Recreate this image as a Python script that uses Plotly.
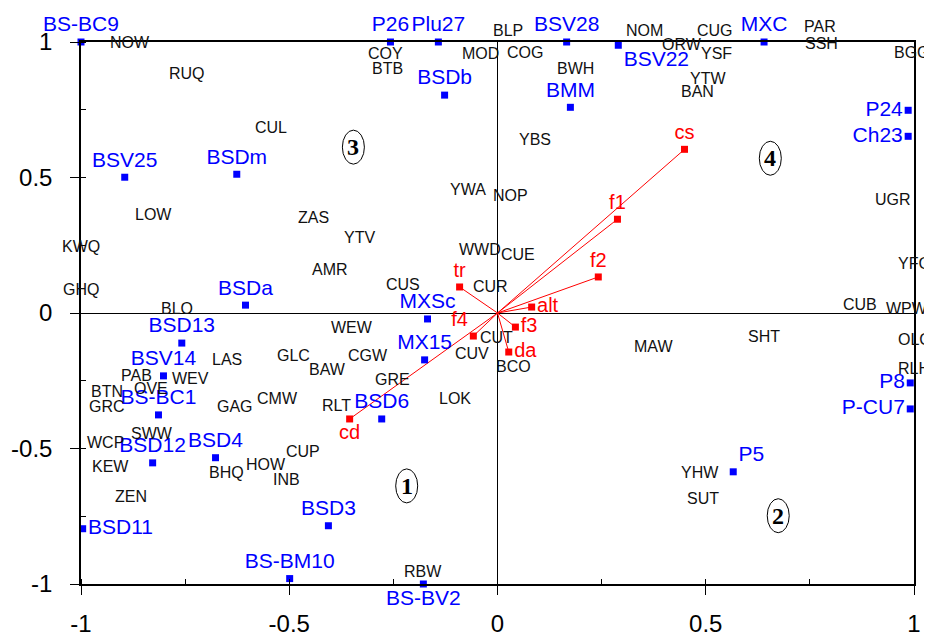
import plotly.graph_objects as go

# ---------------- data ----------------
# sites (blue squares)
site_names = ["BS-BC9", "P26", "Plu27", "BSV28", "BSV22", "MXC", "BSDb", "BMM", "P24", "Ch23",
              "BSV25", "BSDm", "BSDa", "MXSc", "BSD13", "BSV14", "MX15", "BS-BC1", "BSD6",
              "BSD12", "BSD4", "BSD11", "BSD3", "BS-BM10", "BS-BV2", "P8", "P-CU7", "P5"]
site_x = [-1.0, -0.257, -0.142, 0.166, 0.290, 0.640, -0.127, 0.175, 0.986, 0.986,
          -0.895, -0.626, -0.605, -0.168, -0.758, -0.802, -0.175, -0.814, -0.278,
          -0.828, -0.677, -0.996, -0.406, -0.499, -0.178, 0.991, 0.991, 0.566]
site_y = [1.0, 1.0, 1.0, 1.0, 0.988, 1.0, 0.804, 0.759, 0.748, 0.652,
          0.501, 0.512, 0.029, -0.022, -0.111, -0.232, -0.173, -0.376, -0.391,
          -0.553, -0.534, -0.796, -0.785, -0.980, -1.0, -0.258, -0.354, -0.586]

# species (black labels)
sp_names = ["NOW", "RUQ", "CUL", "LOW", "ZAS", "YTV", "KWQ", "AMR", "GHQ", "BLO", "WEW",
            "CUS", "YWA", "NOP", "YBS", "WWD", "CUE", "CUR", "CUT", "CUV", "BCO", "GRE",
            "LOK", "CGW", "GLC", "BAW", "LAS", "PAB", "WEV", "BTN", "OVE", "GRC", "GAG",
            "CMW", "RLT", "WCP", "SWW", "KEW", "ZEN", "BHQ", "HOW", "CUP", "INB", "RBW",
            "COY", "BTB", "BLP", "MOD", "COG", "BWH", "NOM", "ORW", "CUG", "YSF", "YTW",
            "BAN", "PAR", "SSH", "BGG", "UGR", "YFG", "CUB", "WPW", "SHT", "MAW", "OLC",
            "RLH", "YHW", "SUT"]
sp_x = [-0.883, -0.746, -0.545, -0.826, -0.442, -0.331, -1.0, -0.403, -1.0, -0.770, -0.350,
        -0.226, -0.070, 0.031, 0.091, -0.043, 0.050, -0.017, -0.002, -0.062, 0.038, -0.252,
        -0.103, -0.310, -0.490, -0.408, -0.650, -0.866, -0.737, -0.938, -0.833, -0.938, -0.631,
        -0.528, -0.386, -0.941, -0.830, -0.929, -0.881, -0.650, -0.557, -0.466, -0.506, -0.180,
        -0.269, -0.264, 0.026, -0.041, 0.065, 0.187, 0.353, 0.442, 0.521, 0.526, 0.506,
        0.480, 0.775, 0.778, 0.996, 0.950, 1.0, 0.871, 0.982, 0.641, 0.375, 1.0,
        1.0, 0.487, 0.494]
sp_y = [1.0, 0.885, 0.686, 0.365, 0.354, 0.280, 0.247, 0.162, 0.088, 0.018, -0.055,
        0.107, 0.457, 0.435, 0.641, 0.236, 0.217, 0.096, -0.092, -0.148, -0.199, -0.247,
        -0.317, -0.158, -0.155, -0.210, -0.170, -0.229, -0.240, -0.291, -0.280, -0.346, -0.346,
        -0.317, -0.343, -0.479, -0.446, -0.568, -0.678, -0.590, -0.560, -0.512, -0.616, -0.955,
        0.958, 0.903, 1.0, 0.958, 0.962, 0.903, 1.0, 0.991, 1.0, 0.958, 0.866,
        0.818, 1.0, 0.995, 0.962, 0.420, 0.184, 0.033, 0.018, -0.085, -0.122, -0.096,
        -0.206, -0.590, -0.686]

# environmental variables (red arrows)
env_names = ["cs", "f1", "f2", "alt", "tr", "f3", "f4", "da", "cd"]
env_x = [0.449, 0.288, 0.242, 0.082, -0.091, 0.043, -0.058, 0.027, -0.355]
env_y = [0.604, 0.346, 0.133, 0.022, 0.096, -0.052, -0.085, -0.144, -0.391]

# quadrant numbers
quad_labels = ["1", "2", "3", "4"]
quad_x = [-0.218, 0.674, -0.346, 0.655]
quad_y = [-0.638, -0.748, 0.612, 0.571]

# ---------------- styles ----------------
# species labels sitting just above the top frame line
sp_above = {"BLP": 1, "NOM": 1, "CUG": 1, "PAR": 5}

site_textpos = ["top center", "top center", "top center", "top center", "bottom right",
                "top center", "top center", "top center", "middle left", "middle left",
                "top center", "top center", "top center", "top center", "top center",
                "top center", "top center", "top center", "top center", "top center",
                "top center", "middle right", "top center", "top center", "bottom center",
                "middle left", "middle left", "top right"]
env_textpos = ["top center", "top center", "top center", "middle right", "top center",
               "middle right", "top left", "middle right", "bottom center"]

FONT = "Arial, 'Liberation Sans', sans-serif"
BLUE = "#0000FF"
RED = "#FF0000"

fig = go.Figure()

# arrows (lines from origin)
lx, ly = [], []
for x, y in zip(env_x, env_y):
    lx += [0, x, None]
    ly += [0, y, None]
fig.add_trace(go.Scatter(x=lx, y=ly, mode="lines", line=dict(color=RED, width=1),
                         hoverinfo="skip", cliponaxis=False, showlegend=False))

# species labels
for name, x, y in zip(sp_names, sp_x, sp_y):
    above = name in sp_above
    fig.add_annotation(x=x, y=y, text=name, showarrow=False, xanchor="center",
                       yanchor="bottom" if above else "middle",
                       yshift=sp_above.get(name, 0),
                       font=dict(family=FONT, size=16, color="#111111"))

# sites
fig.add_trace(go.Scatter(x=site_x, y=site_y, mode="markers+text", text=site_names,
                         textposition=site_textpos,
                         marker=dict(symbol="square", size=7, color=BLUE),
                         textfont=dict(family=FONT, size=21, color=BLUE),
                         cliponaxis=False, showlegend=False))

# environmental variable end points
fig.add_trace(go.Scatter(x=env_x, y=env_y, mode="markers+text", text=env_names,
                         textposition=env_textpos,
                         marker=dict(symbol="square", size=7, color=RED),
                         textfont=dict(family=FONT, size=20, color=RED),
                         cliponaxis=False, showlegend=False))

# quadrant numbers in ellipses
for lab, qx, qy in zip(quad_labels, quad_x, quad_y):
    fig.add_shape(type="circle", xref="x", yref="y", xsizemode="pixel", ysizemode="pixel",
                  xanchor=qx, yanchor=qy, x0=-11, x1=11, y0=-17, y1=17,
                  line=dict(color="black", width=1))
    fig.add_annotation(x=qx, y=qy, text="<b>" + lab + "</b>", showarrow=False,
                       font=dict(family="'Liberation Serif', 'Times New Roman', serif",
                                 size=24, color="black"))

axis_common = dict(
    range=[-1, 1], tickvals=[-1, -0.5, 0, 0.5, 1], ticktext=["-1", "-0.5", "0", "0.5", "1"],
    ticks="outside", ticklen=9, tickwidth=1.2, tickcolor="black",
    minor=dict(dtick=0.25, ticks="inside", ticklen=5, tickwidth=1.2, tickcolor="black"),
    showline=True, linecolor="black", linewidth=1.5, mirror=True,
    zeroline=True, zerolinecolor="black", zerolinewidth=1.2,
    showgrid=False, tickfont=dict(family=FONT, size=24, color="black"),
    fixedrange=True, automargin=False,
)

# page body keeps an 8px margin, so the figure is sized/offset to compensate
fig.update_layout(
    width=924, height=626,
    margin=dict(l=73, r=18, t=34, b=50),
    paper_bgcolor="white", plot_bgcolor="white",
    xaxis=dict(**axis_common, ticklabelstandoff=8),
    yaxis=dict(**axis_common, ticklabelstandoff=13),
    showlegend=False,
)

fig.write_html("out.html")
